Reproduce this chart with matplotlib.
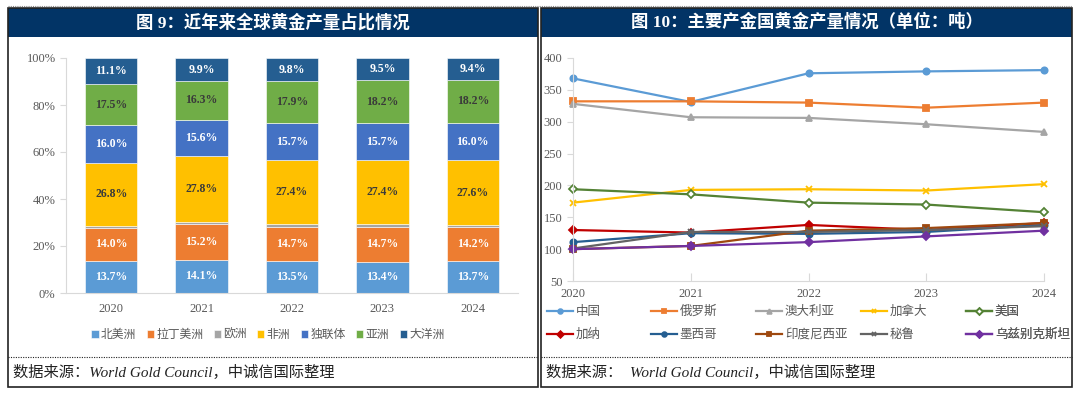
import matplotlib.pyplot as plt
from matplotlib.patches import Rectangle
from matplotlib.lines import Line2D
import numpy as np

plt.rcParams['font.family'] = ['Liberation Serif', 'Noto Sans CJK SC']

# ---- data: left chart (share of global gold production, %)
years = ['2020', '2021', '2022', '2023', '2024']
regions = ['北美洲', '拉丁美洲', '欧洲', '非洲', '独联体', '亚洲', '大洋洲']
north_america = [13.7, 14.1, 13.5, 13.4, 13.7]
latin_america = [14.0, 15.2, 14.7, 14.7, 14.2]
europe = [0.9, 1.1, 1.0, 1.1, 0.9]
africa = [26.8, 27.8, 27.4, 27.4, 27.6]
cis = [16.0, 15.6, 15.7, 15.7, 16.0]
asia = [17.5, 16.3, 17.9, 18.2, 18.2]
oceania = [11.1, 9.9, 9.8, 9.5, 9.4]
shares = [north_america, latin_america, europe, africa, cis, asia, oceania]
region_colors = ['#5b9bd5', '#ed7d31', '#a5a5a5', '#ffc000', '#4472c4', '#70ad47', '#255e91']
label_colors = ['white', 'white', None, '#3a3a3a', 'white', '#3a3a3a', 'white']

# ---- data: right chart (tonnes)
x_years = [2020, 2021, 2022, 2023, 2024]
countries = ['中国', '俄罗斯', '澳大利亚', '加拿大', '美国',
             '加纳', '墨西哥', '印度尼西亚', '秘鲁', '乌兹别克斯坦']
china = [368, 331, 376, 379, 381]
russia = [332, 332, 330, 322, 330]
australia = [328, 307, 306, 296, 284]
canada = [173, 193, 194, 192, 202]
usa = [194, 186, 173, 170, 158]
ghana = [130, 126, 138, 130, 141]
mexico = [111, 125, 124, 127, 138]
indonesia = [100, 105, 129, 133, 141]
peru = [101, 127, 127, 130, 136]
uzbekistan = [100, 105, 111, 120, 129]
series = [china, russia, australia, canada, usa, ghana, mexico, indonesia, peru, uzbekistan]
line_colors = ['#5b9bd5', '#ed7d31', '#a5a5a5', '#ffc000', '#548235',
               '#c00000', '#255e91', '#9e480e', '#636363', '#7030a0']
markers = ['o', 's', '^', 'x', 'D', 'D', 'o', 's', 'x', 'D']

W, H = 1080, 393
fig = plt.figure(figsize=(W / 100, H / 100), dpi=100)


def fx(x):
    return x / W


def fy(y):
    return 1 - y / H


def px_rect(x0, y0, x1, y1):
    return [fx(x0), fy(y1), fx(x1) - fx(x0), fy(y0) - fy(y1)]


navy = '#023466'
grey_txt = '#595959'

# panels, title bars, separators
for x0, x1, title, src in [(8, 538, '图 9：近年来全球黄金产量占比情况',
                            '数据来源：World Gold Council，中诚信国际整理'),
                           (541, 1072, '图 10：主要产金国黄金产量情况（单位：吨）',
                            '数据来源：  World Gold Council，中诚信国际整理')]:
    fig.patches.append(Rectangle((fx(x0), fy(37)), fx(x1) - fx(x0), fy(8) - fy(37),
                                 transform=fig.transFigure, facecolor=navy, edgecolor='none'))
    fig.patches.append(Rectangle((fx(x0), fy(387)), fx(x1) - fx(x0), fy(8) - fy(387),
                                 transform=fig.transFigure, facecolor='none',
                                 edgecolor='#222222', lw=1.2))
    fig.text(fx((x0 + x1) / 2), fy(22.5), title, color='white', fontsize=12.5,
             fontweight='bold', ha='center', va='center')
    fig.lines.append(Line2D([fx(x0), fx(x1)], [fy(357), fy(357)], transform=fig.transFigure,
                            color='#222222', lw=0.8, ls=(0, (1, 1.2))))
    fig.text(fx(x0 + 5), fy(372), src, fontsize=11, style='italic', color='#222222',
             ha='left', va='center')

fig.lines.append(Line2D([fx(8), fx(1072)], [fy(6), fy(6)], transform=fig.transFigure,
                        color='#888888', lw=0.8, ls=(0, (1, 1))))

# ---- left: stacked bars
ax1 = fig.add_axes(px_rect(66, 58, 518, 293))
x = np.arange(len(years))
bottom = np.zeros(len(years))
for name, vals, col, lc in zip(regions, shares, region_colors, label_colors):
    vals = np.array(vals)
    ax1.bar(x, vals, 0.58, bottom=bottom, color=col, edgecolor='white', lw=0.4, label=name)
    if lc is not None:
        for xi, b, v in zip(x, bottom, vals):
            ax1.text(xi, b + v / 2, f'{v:.1f}%', ha='center', va='center', color=lc,
                     fontsize=8.5, fontweight='bold')
    bottom += vals
ax1.set_xlim(-0.5, 4.5)
ax1.set_ylim(0, 100)
ax1.set_yticks(range(0, 101, 20))
ax1.set_yticklabels([f'{v}%' for v in range(0, 101, 20)])
ax1.set_xticks(x)
ax1.set_xticklabels(years)
for s in ['top', 'right']:
    ax1.spines[s].set_visible(False)
for s in ['left', 'bottom']:
    ax1.spines[s].set_color('#d9d9d9')
ax1.tick_params(axis='y', colors='#d9d9d9', labelcolor=grey_txt, labelsize=9, length=4)
ax1.tick_params(axis='x', length=0, labelcolor=grey_txt, labelsize=9, pad=7)
ax1.legend(loc='center', bbox_to_anchor=(fx(268), fy(335)), bbox_transform=fig.transFigure,
           ncol=7, frameon=False, fontsize=8.5, labelcolor=grey_txt, handlelength=0.6,
           handleheight=0.6, handletextpad=0.2, columnspacing=0.9)

# ---- right: lines
ax2 = fig.add_axes(px_rect(573, 58, 1044, 281))
handles = []
for name, vals, col, mk in zip(countries, series, line_colors, markers):
    mfc = 'white' if name == '美国' else col
    h, = ax2.plot(x_years, vals, color=col, lw=1.6, marker=mk, ms=4.5, mfc=mfc,
                  mec=col, mew=1.3, clip_on=False, label=name)
    handles.append(h)
ax2.set_xlim(2020, 2024)
ax2.set_ylim(50, 400)
ax2.set_yticks(range(50, 401, 50))
ax2.set_xticks(x_years)
for s in ['top', 'right']:
    ax2.spines[s].set_visible(False)
for s in ['left', 'bottom']:
    ax2.spines[s].set_color('#d9d9d9')
ax2.tick_params(axis='y', colors='#d9d9d9', labelcolor=grey_txt, labelsize=9, length=4)
ax2.tick_params(axis='x', colors='#d9d9d9', labelcolor=grey_txt, labelsize=9,
                direction='in', length=6, pad=5)

# legend as 5 columns of 2 entries, evenly spaced like the original
col_x = [547, 651, 756, 861, 966]
for i, cx in enumerate(col_x):
    leg = ax2.legend([handles[i], handles[i + 5]], [countries[i], countries[i + 5]],
                     loc='upper left', bbox_to_anchor=(fx(cx), fy(305)),
                     bbox_transform=fig.transFigure, frameon=False, borderpad=0,
                     borderaxespad=0, labelcolor=grey_txt, handlelength=2.1,
                     handletextpad=0.2, labelspacing=0.8, markerscale=0.75,
                     prop={'family': ['Noto Sans CJK SC'], 'size': 9})
    ax2.add_artist(leg)

fig.savefig('out.png', dpi=100)
